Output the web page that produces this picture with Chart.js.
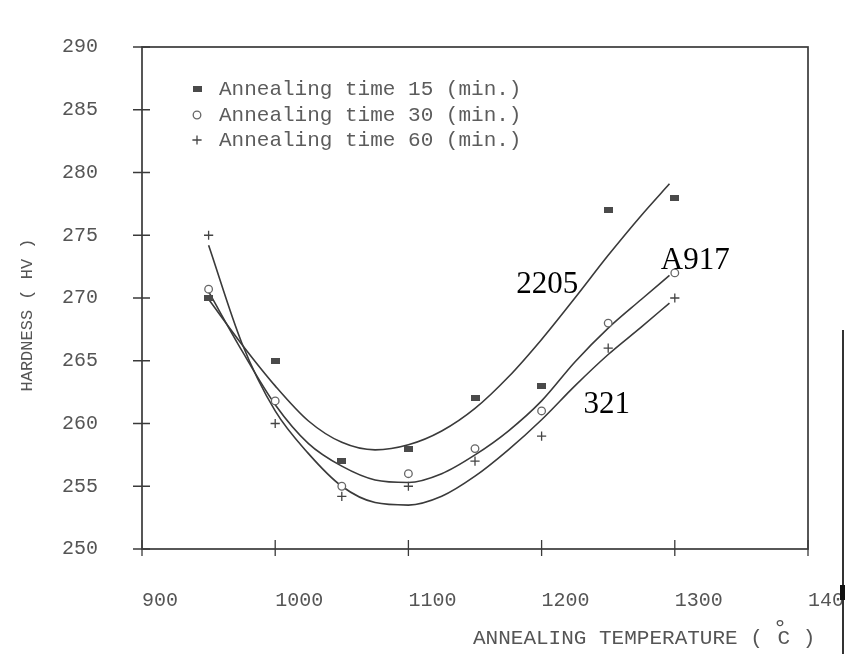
<!DOCTYPE html>
<html>
<head>
<meta charset="utf-8">
<script src="https://cdn.jsdelivr.net/npm/chart.js@4.4.1/dist/chart.umd.min.js"></script>
<style>
  html, body { margin: 0; padding: 0; background: #fff; }
  #wrap { width: 845px; height: 654px; }
</style>
</head>
<body>
<div id="wrap"><canvas id="chart-hv" width="845" height="654"></canvas></div>
<script>
// measured points
const temps = [950, 1000, 1050, 1100, 1150, 1200, 1250, 1300];
const hv15 = [270, 265, 257, 258, 262, 263, 277, 278];
const hv30 = [270.7, 261.8, 255, 256, 258, 261, 268, 272];
const hv60 = [275, 260, 254.2, 255, 257, 259, 266, 270];

// fitted curves
const fitTemps = [950, 975, 1000, 1025, 1050, 1075, 1100, 1125, 1150, 1175, 1200, 1225, 1250, 1275, 1296];
const fit15 = [269.9, 266.3, 263.0, 260.2, 258.5, 257.9, 258.3, 259.4, 261.2, 263.7, 266.7, 270.0, 273.4, 276.6, 279.1];
const fit30 = [270.5, 265.8, 261.5, 258.4, 256.6, 255.5, 255.3, 256.0, 257.5, 259.4, 261.8, 264.9, 267.6, 269.9, 271.8];
const fit60 = [274.2, 266.4, 261.0, 257.6, 255.0, 253.7, 253.5, 254.2, 255.8, 257.9, 260.3, 263.0, 265.5, 267.7, 269.6];

const seriesNames = ["Annealing time 15 (min.)", "Annealing time 30 (min.)", "Annealing time 60 (min.)"];
const xTicks = [900, 1000, 1100, 1200, 1300, 1400];
const yTicks = [250, 255, 260, 265, 270, 275, 280, 285, 290];

const ink = "#3a3a3a";
const grey = "#555";

function toXY(xs, ys) {
  return xs.map((x, i) => ({ x: x, y: ys[i] }));
}

// small flat box, the plotter's "square"
const boxMark = document.createElement("canvas");
boxMark.width = 9;
boxMark.height = 6;
const bctx = boxMark.getContext("2d");
bctx.fillStyle = "#4a4a4a";
bctx.fillRect(0, 0, 9, 6);

const markers = [
  { pointStyle: boxMark, pointRadius: 5, borderWidth: 0, backgroundColor: "#4a4a4a", borderColor: "#4a4a4a" },
  { pointStyle: "circle", pointRadius: 3.8, borderWidth: 1.3, backgroundColor: "#fff", borderColor: "#666" },
  { pointStyle: "cross", pointRadius: 4.6, borderWidth: 1.3, backgroundColor: "#444", borderColor: "#444" }
];

const framePlugin = {
  id: "frame",
  beforeDatasetsDraw(chart) {
    const { ctx, chartArea: a, scales } = chart;
    ctx.save();
    ctx.strokeStyle = ink;
    ctx.lineWidth = 1.7;
    ctx.strokeRect(a.left, a.top, a.right - a.left, a.bottom - a.top);
    ctx.lineWidth = 1.3;
    ctx.beginPath();
    scales.x.ticks.forEach(t => {
      const px = scales.x.getPixelForValue(t.value);
      ctx.moveTo(px, a.bottom - 9);
      ctx.lineTo(px, a.bottom + 7);
    });
    scales.y.ticks.forEach(t => {
      const py = scales.y.getPixelForValue(t.value);
      ctx.moveTo(a.left - 9, py);
      ctx.lineTo(a.left + 8, py);
    });
    ctx.stroke();
    ctx.restore();
  },
  afterDraw(chart) {
    const { ctx, scales } = chart;
    ctx.save();

    // legend inside the plot
    ctx.font = "21px 'Liberation Mono'";
    ctx.fillStyle = "#5c5c5c";
    ctx.textBaseline = "middle";
    const rows = [89, 115, 140];
    seriesNames.forEach((name, i) => {
      const m = markers[i];
      ctx.save();
      ctx.fillStyle = m.backgroundColor;
      ctx.strokeStyle = m.borderColor;
      ctx.lineWidth = m.borderWidth;
      Chart.helpers.drawPoint(ctx, { pointStyle: m.pointStyle, radius: m.pointRadius, rotation: 0, borderWidth: m.borderWidth }, 197, rows[i]);
      ctx.restore();
      ctx.fillText(name, 219, rows[i]);
    });

    // axis titles
    ctx.fillStyle = grey;
    ctx.font = "21px 'Liberation Mono'";
    ctx.textAlign = "left";
    const head = "ANNEALING TEMPERATURE ( ";
    ctx.fillText(head, 473, 638);
    const cx = 473 + ctx.measureText(head).width;
    ctx.fillText("C )", cx + 2, 638);
    ctx.font = "22px 'DejaVu Sans'";
    ctx.textBaseline = "alphabetic";
    ctx.fillText("°", cx - 1, 636);

    ctx.save();
    ctx.textBaseline = "middle";
    ctx.translate(27, 315);
    ctx.rotate(-Math.PI / 2);
    ctx.font = "17px 'Liberation Mono'";
    ctx.textAlign = "center";
    ctx.fillText("HARDNESS ( HV )", 0, 0);
    ctx.restore();

    // grade labels written on the curves
    ctx.font = "31px 'Liberation Serif'";
    ctx.fillStyle = "#000";
    ctx.textBaseline = "alphabetic";
    ctx.textAlign = "left";
    [["2205", 1181, 270.4], ["A917", 1289.5, 272.3], ["321", 1231.5, 260.8]].forEach(([txt, tx, ty]) => {
      ctx.fillText(txt, scales.x.getPixelForValue(tx), scales.y.getPixelForValue(ty));
    });

    // dark scanner edge on the right
    ctx.fillStyle = "#333";
    ctx.fillRect(842, 330, 2, 324);
    ctx.fillStyle = "#111";
    ctx.fillRect(840, 585, 5, 15);
    ctx.restore();
  }
};

const pointSets = [hv15, hv30, hv60].map((ys, i) => Object.assign({
  label: seriesNames[i],
  data: toXY(temps, ys),
  showLine: false
}, markers[i]));

const curveSets = [fit15, fit30, fit60].map(ys => ({
  data: toXY(fitTemps, ys),
  showLine: true,
  borderColor: ink,
  borderWidth: 1.6,
  pointRadius: 0,
  cubicInterpolationMode: "monotone",
  fill: false
}));

new Chart(document.getElementById("chart-hv"), {
  type: "scatter",
  data: { datasets: pointSets.concat(curveSets) },
  plugins: [framePlugin],
  options: {
    responsive: false,
    animation: false,
    devicePixelRatio: 1,
    layout: { padding: { left: 0, top: 47, right: 37, bottom: 0 } },
    plugins: {
      legend: { display: false },
      tooltip: { enabled: false }
    },
    scales: {
      x: {
        type: "linear",
        min: 900,
        max: 1400,
        afterBuildTicks: s => { s.ticks = xTicks.map(v => ({ value: v })); },
        afterFit: s => { s.height = 105; s.paddingLeft = 0; s.paddingRight = 0; },
        grid: { display: false },
        border: { display: false },
        ticks: {
          align: "start",
          padding: 32,
          color: grey,
          font: { family: "'Liberation Mono'", size: 20 },
          callback: v => String(v)
        }
      },
      y: {
        min: 250,
        max: 290,
        afterBuildTicks: s => { s.ticks = yTicks.map(v => ({ value: v })); },
        afterFit: s => { s.width = 142; s.paddingTop = 0; s.paddingBottom = 0; },
        grid: { display: false },
        border: { display: false },
        ticks: {
          padding: 36,
          color: grey,
          font: { family: "'Liberation Mono'", size: 20 },
          callback: v => String(v)
        }
      }
    }
  }
});
</script>
</body>
</html>
